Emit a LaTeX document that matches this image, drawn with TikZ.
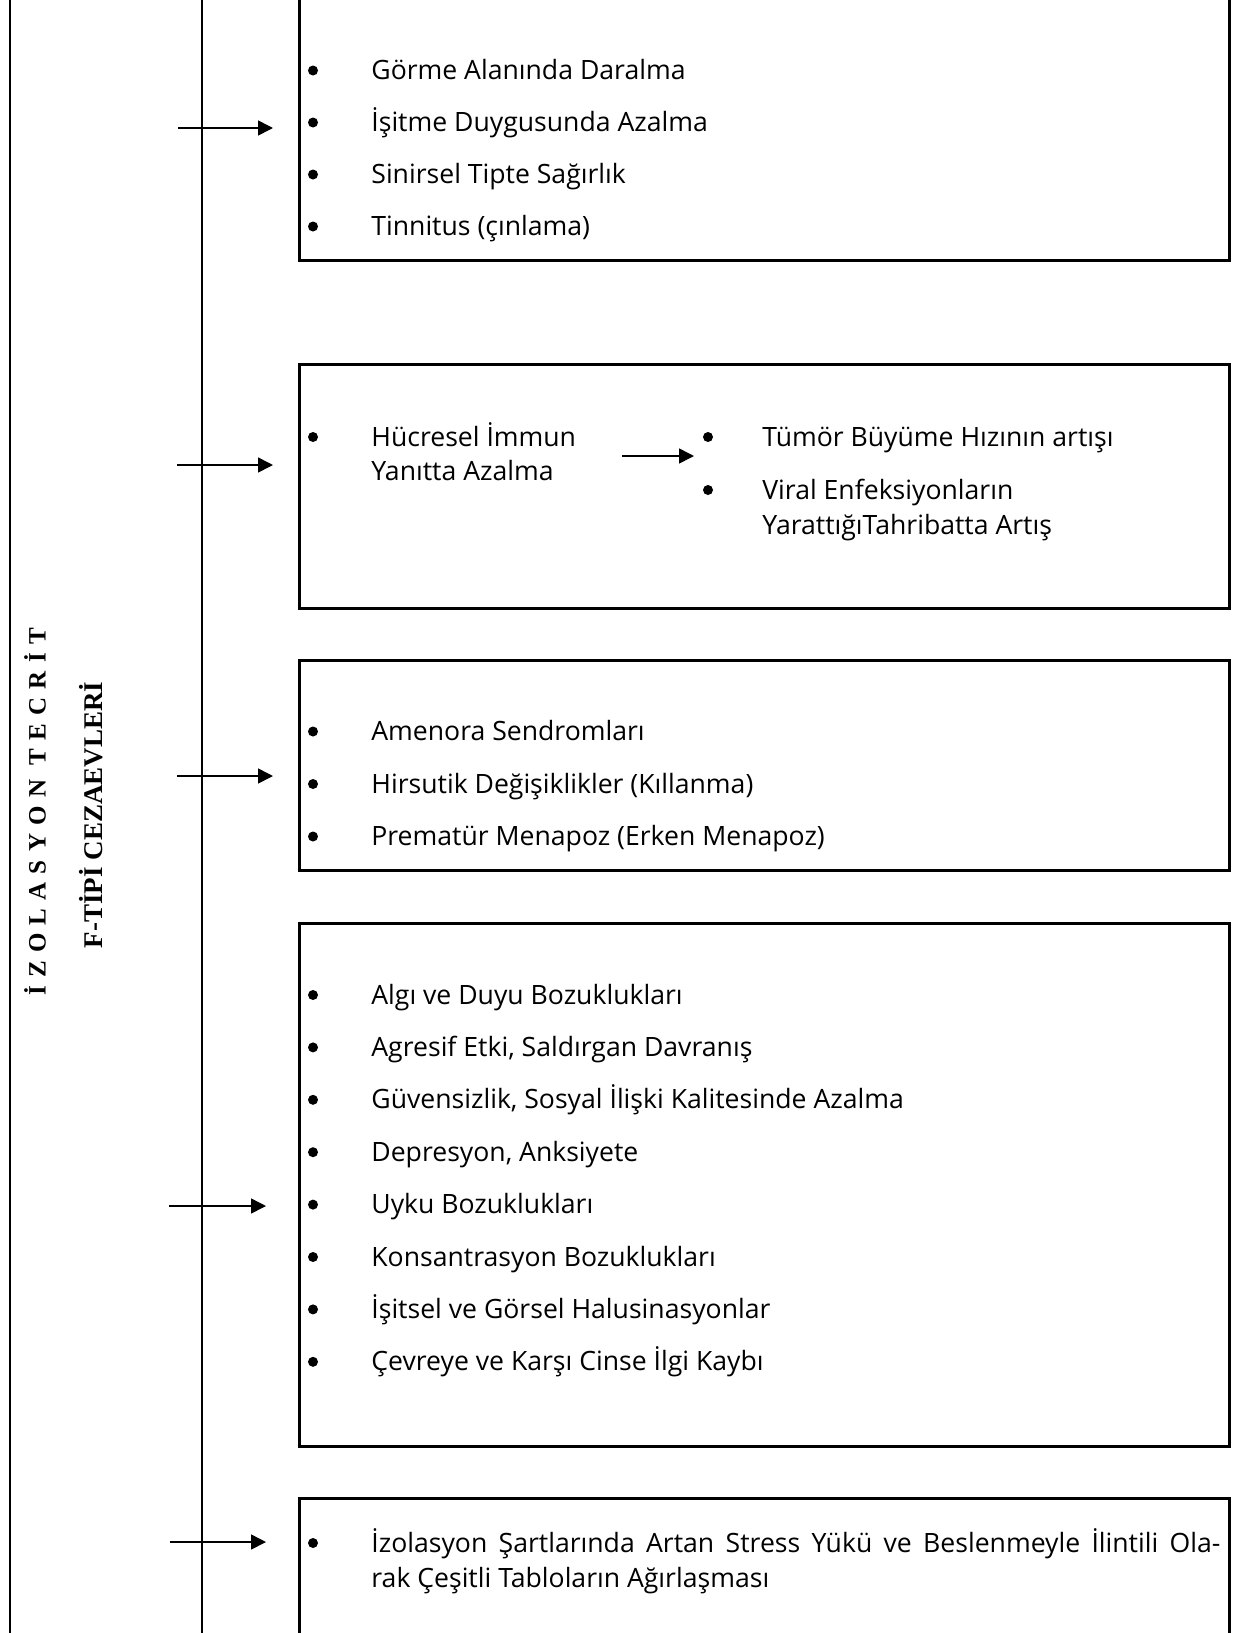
\documentclass[tikz,border=0pt]{standalone}
\usepackage{fontspec}
\setmainfont{Open Sans}
\newfontfamily\titlefont{Liberation Serif}
\usetikzlibrary{arrows.meta}

\tikzset{
  box/.style={draw, line width=1.3pt, anchor=north west, inner sep=0pt, minimum width=465pt},
  arr/.style={line width=0.8pt, -{Triangle[length=7.5pt,width=7.5pt]}},
  item/.style={anchor=base west, inner sep=0pt, font=\fontsize{13.3}{15}\selectfont},
  spine/.style={line width=1pt},
}

\begin{document}
\begin{tikzpicture}[x=0.5pt,y=-0.5pt]
\useasboundingbox (0,0) rectangle (1233,1633);
\clip (0,0) rectangle (1233,1633);

\draw[spine] (9.5,-5) -- (9.5,1640);
\draw[spine] (202,-5) -- (202,1640);

\node[rotate=90, inner sep=0pt, font=\titlefont\fontsize{12.5}{14}\selectfont\bfseries\addfontfeature{LetterSpace=33}] (izo) at (35,812) {İZOLASYON TECRİT};
\node[rotate=90, inner sep=0pt, font=\titlefont\fontsize{13.5}{15}\selectfont\bfseries] (ftipi) at (91,815) {F-TİPİ CEZAEVLERİ};

% kutular
\node[box, minimum height=139.5pt] (gorme) at (298,-20) {};
\node[box, minimum height=122pt] (immun) at (298,363) {};
\node[box, minimum height=105pt] (hormon) at (298,659) {};
\node[box, minimum height=261.5pt] (psiko) at (298,922) {};
\node[box, minimum height=90pt] (stres) at (298,1497) {};

\foreach \t [count=\i] in {Görme Alanında Daralma, İşitme Duygusunda Azalma, Sinirsel Tipte Sağırlık, Tinnitus (çınlama)}{
  \fill (313,{70.5+52*(\i-1)}) circle (2.5pt);
  \node[item] (g\i) at (371,{79.5+52*(\i-1)}) {\t};
}

\fill (313,437) circle (2.5pt);
\node[item] (hucre1) at (371,446) {Hücresel İmmun};
\node[item] (hucre2) at (371,480) {Yanıtta Azalma};
\fill (708,437) circle (2.5pt);
\node[item] (tumor) at (762,446) {Tümör Büyüme Hızının artışı};
\fill (708,490) circle (2.5pt);
\node[item] (viral1) at (762,499) {Viral Enfeksiyonların};
\node[item] (viral2) at (762,534) {YarattığıTahribatta Artış};

\foreach \t [count=\i] in {Amenora Sendromları, Hirsutik Değişiklikler (Kıllanma), Prematür Menapoz (Erken Menapoz)}{
  \fill (313,{731.5+52.5*(\i-1)}) circle (2.5pt);
  \node[item] (h\i) at (371,{740.5+52.5*(\i-1)}) {\t};
}

\foreach \t [count=\i] in {Algı ve Duyu Bozuklukları, {Agresif Etki, Saldırgan Davranış}, {Güvensizlik, Sosyal İlişki Kalitesinde Azalma}, {Depresyon, Anksiyete}, Uyku Bozuklukları, Konsantrasyon Bozuklukları, İşitsel ve Görsel Halusinasyonlar, Çevreye ve Karşı Cinse İlgi Kaybı}{
  \fill (313,{995+52.4*(\i-1)}) circle (2.5pt);
  \node[item] (p\i) at (371,{1004+52.4*(\i-1)}) {\t};
}

\fill (313,1543) circle (2.5pt);
\node[item] (stres1) at (371,1552) {\makebox[424.5pt][s]{İzolasyon Şartlarında Artan Stress Yükü ve Beslenmeyle İlintili Ola-}};
\node[item] (stres2) at (371,1587) {rak Çeşitli Tabloların Ağırlaşması};

% oklar
\coordinate (a1) at (178,128);
\coordinate (a2) at (177,465);
\coordinate (a3) at (177,776);
\coordinate (a4) at (169,1206);
\coordinate (a5) at (170,1542);
\coordinate (a6) at (622,456);
\draw[arr, shorten >=12.5pt] (a1) -- (a1 -| gorme.west);
\draw[arr, shorten >=12.5pt] (a2) -- (a2 -| immun.west);
\draw[arr, shorten >=12.5pt] (a3) -- (a3 -| hormon.west);
\draw[arr, shorten >=16pt] (a4) -- (a4 -| psiko.west);
\draw[arr, shorten >=16pt] (a5) -- (a5 -| stres.west);
\draw[arr, shorten >=34pt] (a6) -- (a6 -| tumor.west);
\end{tikzpicture}
\end{document}
